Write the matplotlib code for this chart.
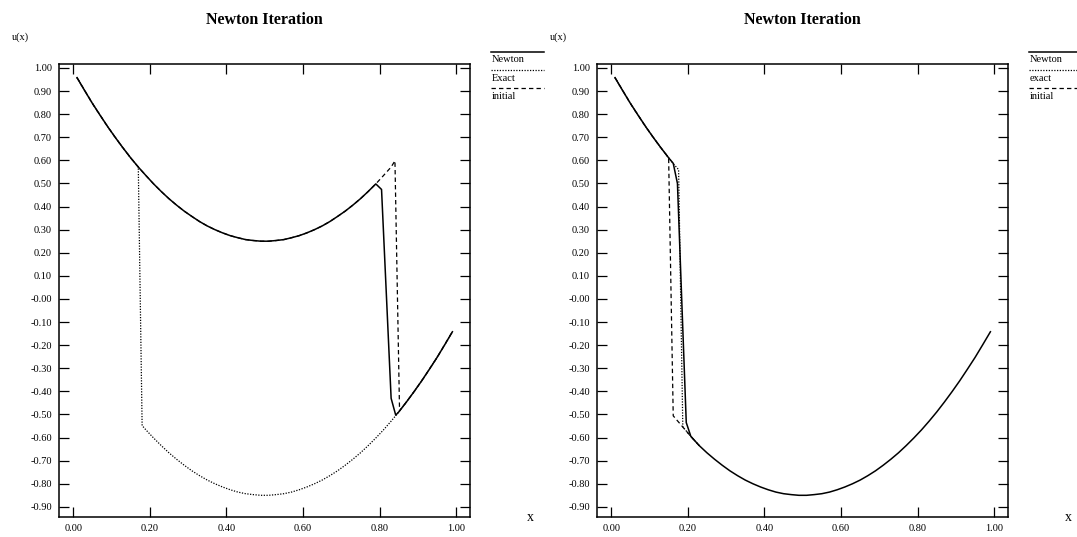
import matplotlib
matplotlib.use("Agg")
import matplotlib.pyplot as plt
from matplotlib.lines import Line2D

plt.rcParams['font.family'] = ['Liberation Serif', 'DejaVu Serif']

# ---- data ----
# left panel
newton_left_x = [0.01, 0.03, 0.05, 0.07, 0.09, 0.11, 0.13, 0.15, 0.17, 0.19, 0.21, 0.23,
                 0.25, 0.27, 0.29, 0.31, 0.33, 0.35, 0.37, 0.39, 0.41, 0.43, 0.45, 0.47,
                 0.49, 0.51, 0.53, 0.55, 0.57, 0.59, 0.61, 0.63, 0.65, 0.67, 0.69, 0.71,
                 0.73, 0.75, 0.77, 0.79, 0.805, 0.83, 0.842, 0.85, 0.87, 0.89, 0.91, 0.93,
                 0.95, 0.97, 0.99]
newton_left_u = [0.958, 0.902, 0.847, 0.796, 0.746, 0.699, 0.654, 0.611, 0.571, 0.534, 0.498, 0.465,
                 0.434, 0.406, 0.380, 0.357, 0.335, 0.316, 0.300, 0.286, 0.274, 0.265, 0.257, 0.253,
                 0.250, 0.250, 0.253, 0.257, 0.265, 0.274, 0.286, 0.300, 0.316, 0.335, 0.357, 0.380,
                 0.406, 0.434, 0.465, 0.498, 0.474, -0.430, -0.503, -0.489, -0.446, -0.401, -0.354, -0.304,
                 -0.253, -0.198, -0.142]

exact_left_x = [0.01, 0.03, 0.05, 0.07, 0.09, 0.11, 0.13, 0.15, 0.17, 0.18, 0.19, 0.21, 0.23,
                0.25, 0.27, 0.29, 0.31, 0.33, 0.35, 0.37, 0.39, 0.41, 0.43, 0.45, 0.47,
                0.49, 0.51, 0.53, 0.55, 0.57, 0.59, 0.61, 0.63, 0.65, 0.67, 0.69, 0.71,
                0.73, 0.75, 0.77, 0.79, 0.81, 0.83, 0.85, 0.87, 0.89, 0.91, 0.93,
                0.95, 0.97, 0.99]
exact_left_u = [0.958, 0.902, 0.847, 0.796, 0.746, 0.699, 0.654, 0.611, 0.571, -0.548, -0.567, -0.602, -0.635,
                -0.666, -0.694, -0.720, -0.744, -0.765, -0.784, -0.800, -0.814, -0.826, -0.836, -0.843, -0.847,
                -0.850, -0.850, -0.847, -0.843, -0.836, -0.826, -0.814, -0.800, -0.784, -0.765, -0.744, -0.720,
                -0.694, -0.666, -0.635, -0.602, -0.567, -0.529, -0.489, -0.446, -0.401, -0.354, -0.304,
                -0.253, -0.198, -0.142]

initial_left_x = [0.01, 0.03, 0.05, 0.07, 0.09, 0.11, 0.13, 0.15, 0.17, 0.19, 0.21, 0.23,
                  0.25, 0.27, 0.29, 0.31, 0.33, 0.35, 0.37, 0.39, 0.41, 0.43, 0.45, 0.47,
                  0.49, 0.51, 0.53, 0.55, 0.57, 0.59, 0.61, 0.63, 0.65, 0.67, 0.69, 0.71,
                  0.73, 0.75, 0.77, 0.79, 0.81, 0.83, 0.84, 0.852, 0.87, 0.89, 0.91, 0.93,
                  0.95, 0.97, 0.99]
initial_left_u = [0.958, 0.902, 0.847, 0.796, 0.746, 0.699, 0.654, 0.611, 0.571, 0.534, 0.498, 0.465,
                  0.434, 0.406, 0.380, 0.357, 0.335, 0.316, 0.300, 0.286, 0.274, 0.265, 0.257, 0.253,
                  0.250, 0.250, 0.253, 0.257, 0.265, 0.274, 0.286, 0.300, 0.316, 0.335, 0.357, 0.380,
                  0.406, 0.434, 0.465, 0.498, 0.534, 0.571, 0.598, -0.484, -0.446, -0.401, -0.354, -0.304,
                  -0.253, -0.198, -0.142]

# right panel
newton_right_x = [0.01, 0.03, 0.05, 0.07, 0.09, 0.11, 0.13, 0.15, 0.162, 0.173, 0.196, 0.208,
                  0.23, 0.25, 0.27, 0.29, 0.31, 0.33, 0.35, 0.37, 0.39, 0.41, 0.43, 0.45, 0.47,
                  0.49, 0.51, 0.53, 0.55, 0.57, 0.59, 0.61, 0.63, 0.65, 0.67, 0.69, 0.71,
                  0.73, 0.75, 0.77, 0.79, 0.81, 0.83, 0.85, 0.87, 0.89, 0.91, 0.93,
                  0.95, 0.97, 0.99]
newton_right_u = [0.958, 0.902, 0.847, 0.796, 0.746, 0.699, 0.654, 0.611, 0.587, 0.500, -0.535, -0.595,
                  -0.635, -0.666, -0.694, -0.720, -0.744, -0.765, -0.784, -0.800, -0.814, -0.826, -0.836, -0.843, -0.847,
                  -0.850, -0.850, -0.847, -0.843, -0.836, -0.826, -0.814, -0.800, -0.784, -0.765, -0.744, -0.720,
                  -0.694, -0.666, -0.635, -0.602, -0.567, -0.529, -0.489, -0.446, -0.401, -0.354, -0.304,
                  -0.253, -0.198, -0.142]

exact_right_x = [0.01, 0.03, 0.05, 0.07, 0.09, 0.11, 0.13, 0.15, 0.165, 0.176, 0.187, 0.208, 0.23]
exact_right_u = [0.958, 0.902, 0.847, 0.796, 0.746, 0.699, 0.654, 0.611, 0.580, 0.560, -0.554, -0.595, -0.635]

initial_right_x = [0.01, 0.03, 0.05, 0.07, 0.09, 0.11, 0.13, 0.15, 0.162, 0.208, 0.23]
initial_right_u = [0.958, 0.902, 0.847, 0.796, 0.746, 0.699, 0.654, 0.611, -0.506, -0.595, -0.635]

x_ticks = [0.0, 0.2, 0.4, 0.6, 0.8, 1.0]
x_tick_labels = ['0.00', '0.20', '0.40', '0.60', '0.80', '1.00']
y_ticks = [1.0, 0.9, 0.8, 0.7, 0.6, 0.5, 0.4, 0.3, 0.2, 0.1, 0.0,
           -0.1, -0.2, -0.3, -0.4, -0.5, -0.6, -0.7, -0.8, -0.9]
y_tick_labels = ['1.00', '0.90', '0.80', '0.70', '0.60', '0.50', '0.40', '0.30', '0.20', '0.10',
                 '-0.00', '-0.10', '-0.20', '-0.30', '-0.40', '-0.50', '-0.60', '-0.70', '-0.80', '-0.90']

panels = [
    dict(newton=(newton_left_x, newton_left_u), exact=(exact_left_x, exact_left_u),
         initial=(initial_left_x, initial_left_u), labels=['Newton', 'Exact', 'initial']),
    dict(newton=(newton_right_x, newton_right_u), exact=(exact_right_x, exact_right_u),
         initial=(initial_right_x, initial_right_u), labels=['Newton', 'exact', 'initial']),
]

styles = {
    'newton': dict(color='black', lw=1.1, ls='-'),
    'exact': dict(color='black', lw=0.9, ls=(0, (1, 1.2))),
    'initial': dict(color='black', lw=0.9, ls=(0, (3.5, 2.5))),
}

fig = plt.figure(figsize=(10.77, 5.37), dpi=100)
lefts = [59 / 1077, 597 / 1077]

for left, p in zip(lefts, panels):
    ax = fig.add_axes([left, 0.0372, 0.382, 0.8436])
    # draw order: initial, exact, then Newton on top
    ax.plot(*p['initial'], **styles['initial'])
    ax.plot(*p['exact'], **styles['exact'])
    ax.plot(*p['newton'], **styles['newton'])

    ax.set_xlim(-0.037, 1.037)
    ax.set_ylim(-0.944, 1.017)
    ax.set_xticks(x_ticks)
    ax.set_xticklabels(x_tick_labels)
    ax.set_yticks(y_ticks)
    ax.set_yticklabels(y_tick_labels)
    ax.tick_params(direction='in', top=True, right=True, length=7, width=0.9,
                   labelsize=7.5, pad=5)
    for s in ax.spines.values():
        s.set_linewidth(1.1)

    ax.set_title('Newton Iteration', fontsize=11.5, fontweight='bold', pad=29)
    ax.text(-0.115, 1.06, 'u(x)', transform=ax.transAxes, fontsize=7.5,
            ha='left', va='center')
    ax.text(1.145, 0.0, 'x', transform=ax.transAxes, fontsize=10,
            ha='center', va='center')

    # legend: line above each label, outside to the right
    for i, (key, lab) in enumerate(zip(['newton', 'exact', 'initial'], p['labels'])):
        y_line = 1.027 - i * 0.0405
        ln = Line2D([1.05, 1.18], [y_line, y_line], transform=ax.transAxes,
                    clip_on=False, **styles[key])
        ax.add_line(ln)
        ax.text(1.052, y_line - 0.018, lab, transform=ax.transAxes, fontsize=7.5,
                ha='left', va='center')

fig.savefig('out.png', dpi=100)
